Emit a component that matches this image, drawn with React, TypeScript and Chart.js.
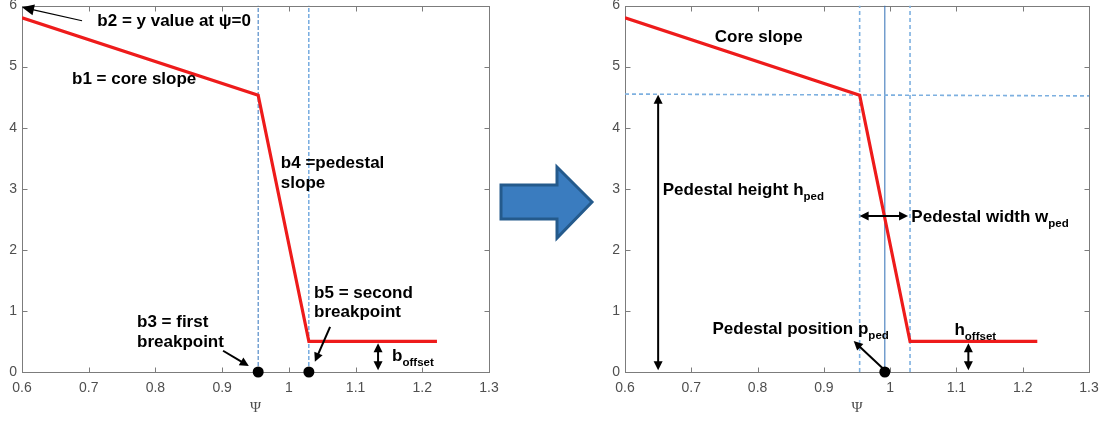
import React, { useEffect, useRef } from 'react';
import { Chart, registerables } from 'chart.js';

Chart.register(...registerables);

// Piecewise-linear pedestal profile: core slope, pedestal drop, flat offset
const profilePsi = [0.6, 0.954, 1.03, 1.222];
const profileValue = [5.8, 4.53, 0.5, 0.5];

// First (b3) and second (b5) breakpoints
const breakpointPsi = [0.954, 1.03];
// Pedestal position, midway between the breakpoints
const pedestalPsi = [0.992];
// Pedestal-top guide across the whole psi range
const pedestalTopPsi = [0.6, 1.3];
const pedestalTopValue = [4.55, 4.52];

const xTickValues = [0.6, 0.7, 0.8, 0.9, 1, 1.1, 1.2, 1.3];
const yTickValues = [0, 1, 2, 3, 4, 5, 6];

const SANS = "'Liberation Sans', Arial, sans-serif";
const MAIN_FONT = `bold 17px ${SANS}`;
const SUB_FONT = `bold 11.5px ${SANS}`;
const AXIS_COLOR = '#7c7c7c';
const LABEL_COLOR = '#4f4f4f';
const RED = '#ee1b1b';

type Part = { t: string; sub?: boolean };
type Note =
  | { kind: 'text'; x: number; y: number; parts: Part[] }
  | { kind: 'arrow'; x1: number; y1: number; x2: number; y2: number; both?: boolean; lw?: number; head?: number; half?: number };

const txt = (x: number, y: number, ...parts: (string | Part)[]): Note => ({
  kind: 'text',
  x,
  y,
  parts: parts.map((p) => (typeof p === 'string' ? { t: p } : p)),
});

const leftNotes: Note[] = [
  txt(0.7129, 5.766, 'b2 = y value at ψ=0'),
  { kind: 'arrow', x1: 0.69, y1: 5.75, x2: 0.6, y2: 5.97, lw: 1.2, head: 12, half: 5.5 },
  txt(0.675, 4.806, 'b1 = core slope'),
  txt(0.988, 3.445, 'b4 =pedestal'),
  txt(0.988, 3.118, 'slope'),
  txt(1.0378, 1.303, 'b5 = second'),
  txt(1.0378, 0.992, 'breakpoint'),
  txt(0.7724, 0.839, 'b3 = first'),
  txt(0.7724, 0.512, 'breakpoint'),
  { kind: 'arrow', x1: 0.9014, y1: 0.348, x2: breakpointPsi[0] - 0.014, y2: 0.098 },
  { kind: 'arrow', x1: 1.0618, y1: 0.74, x2: breakpointPsi[1] + 0.009, y2: 0.168 },
  { kind: 'arrow', x1: 1.1337, y1: profileValue[3] - 0.03, x2: 1.1337, y2: 0.03, both: true },
  txt(1.1547, 0.278, 'b', { t: 'offset', sub: true }),
];

const rightNotes: Note[] = [
  txt(0.7355, 5.498, 'Core slope'),
  { kind: 'arrow', x1: 0.65, y1: 4.54, x2: 0.65, y2: 0.03, both: true },
  txt(0.657, 2.992, 'Pedestal height h', { t: 'ped', sub: true }),
  { kind: 'arrow', x1: breakpointPsi[0], y1: 2.555, x2: breakpointPsi[1] - 0.003, y2: 2.555, both: true },
  txt(1.032, 2.555, 'Pedestal width w', { t: 'ped', sub: true }),
  txt(0.732, 0.719, 'Pedestal position p', { t: 'ped', sub: true }),
  { kind: 'arrow', x1: pedestalPsi[0], y1: 0.03, x2: 0.945, y2: 0.507 },
  txt(1.097, 0.703, 'h', { t: 'offset', sub: true }),
  { kind: 'arrow', x1: 1.118, y1: profileValue[3] - 0.03, x2: 1.118, y2: 0.03, both: true },
];

function drawHead(ctx: CanvasRenderingContext2D, x: number, y: number, ang: number, len: number, half: number) {
  ctx.beginPath();
  ctx.moveTo(x, y);
  ctx.lineTo(x - len * Math.cos(ang) + half * Math.sin(ang), y - len * Math.sin(ang) - half * Math.cos(ang));
  ctx.lineTo(x - len * Math.cos(ang) - half * Math.sin(ang), y - len * Math.sin(ang) + half * Math.cos(ang));
  ctx.closePath();
  ctx.fill();
}

// Draws the frame with inward tick marks on all four sides
const framePlugin = {
  id: 'frame',
  beforeDatasetsDraw(chart: any) {
    const { ctx, chartArea: a, scales } = chart;
    const L = Math.round(a.left) + 0.5;
    const R = Math.round(a.right) + 0.5;
    const T = Math.round(a.top) + 0.5;
    const B = Math.round(a.bottom) + 0.5;
    ctx.save();
    ctx.strokeStyle = AXIS_COLOR;
    ctx.lineWidth = 1;
    ctx.strokeRect(L, T, R - L, B - T);
    ctx.beginPath();
    const tl = 5;
    scales.x.ticks.forEach((t: any) => {
      const px = Math.round(scales.x.getPixelForValue(t.value)) + 0.5;
      ctx.moveTo(px, B);
      ctx.lineTo(px, B - tl);
      ctx.moveTo(px, T);
      ctx.lineTo(px, T + tl);
    });
    scales.y.ticks.forEach((t: any) => {
      const py = Math.round(scales.y.getPixelForValue(t.value)) + 0.5;
      ctx.moveTo(L, py);
      ctx.lineTo(L + tl, py);
      ctx.moveTo(R, py);
      ctx.lineTo(R - tl, py);
    });
    ctx.stroke();
    ctx.restore();
  },
};

// Text labels and black arrows placed in data coordinates
const notesPlugin = {
  id: 'notes',
  afterDatasetsDraw(chart: any, _args: any, opts: any) {
    const { ctx, scales } = chart;
    const notes: Note[] = opts.items || [];
    const X = (v: number) => scales.x.getPixelForValue(v);
    const Y = (v: number) => scales.y.getPixelForValue(v);
    ctx.save();
    ctx.fillStyle = '#000';
    ctx.strokeStyle = '#000';
    for (const n of notes) {
      if (n.kind === 'text') {
        let cx = X(n.x);
        const base = Y(n.y) + 6;
        ctx.textBaseline = 'alphabetic';
        ctx.textAlign = 'left';
        for (const p of n.parts) {
          ctx.font = p.sub ? SUB_FONT : MAIN_FONT;
          ctx.fillText(p.t, cx, p.sub ? base + 5 : base);
          cx += ctx.measureText(p.t).width;
        }
      } else {
        const x1 = X(n.x1), y1 = Y(n.y1), x2 = X(n.x2), y2 = Y(n.y2);
        const ang = Math.atan2(y2 - y1, x2 - x1);
        const len = n.head ?? 9;
        const half = n.half ?? 4.5;
        const sx = n.both ? x1 + Math.cos(ang) * len * 0.8 : x1;
        const sy = n.both ? y1 + Math.sin(ang) * len * 0.8 : y1;
        ctx.lineWidth = n.lw ?? 2;
        ctx.beginPath();
        ctx.moveTo(sx, sy);
        ctx.lineTo(x2 - Math.cos(ang) * len * 0.8, y2 - Math.sin(ang) * len * 0.8);
        ctx.stroke();
        drawHead(ctx, x2, y2, ang, len, half);
        if (n.both) drawHead(ctx, x1, y1, ang + Math.PI, len, half);
      }
    }
    ctx.restore();
  },
};

const vline = (x: number, color: string, width: number, dash: number[]) => ({
  type: 'line' as const,
  data: [{ x, y: 0 }, { x, y: 6 }],
  borderColor: color,
  borderWidth: width,
  borderDash: dash,
  pointRadius: 0,
  order: 5,
});

function buildConfig(variant: 'left' | 'right', padLeft: number, padRight: number) {
  const profile = {
    type: 'line' as const,
    data: profilePsi.map((x, i) => ({ x, y: profileValue[i] })),
    borderColor: RED,
    borderWidth: 3.2,
    pointRadius: 0,
    order: 1,
  };
  const dotPsi = variant === 'left' ? breakpointPsi : pedestalPsi;
  const dots = {
    type: 'line' as const,
    data: dotPsi.map((x) => ({ x, y: 0 })),
    showLine: false,
    pointRadius: 5.5,
    pointBackgroundColor: '#000',
    pointBorderColor: '#000',
    pointBorderWidth: 0,
    clip: false,
    order: 0,
  };
  const guides =
    variant === 'left'
      ? [vline(breakpointPsi[0], '#2f72bd', 1, [4, 2]), vline(breakpointPsi[1], '#2f80d0', 1, [4, 2])]
      : [
          vline(breakpointPsi[0], '#7db0e0', 1.6, [4, 3]),
          vline(breakpointPsi[1], '#7db0e0', 1.6, [4, 3]),
          {
            type: 'line' as const,
            data: pedestalTopPsi.map((x, i) => ({ x, y: pedestalTopValue[i] })),
            borderColor: '#7db0e0',
            borderWidth: 1.6,
            borderDash: [4, 3],
            pointRadius: 0,
            order: 5,
          },
          vline(pedestalPsi[0], '#2f6db5', 1, []),
        ];

  return {
    type: 'line' as const,
    data: { datasets: [profile, dots, ...guides] as any[] },
    plugins: [framePlugin, notesPlugin],
    options: {
      animation: false as const,
      responsive: false,
      devicePixelRatio: 1,
      layout: { padding: { left: padLeft, right: padRight, top: 5, bottom: 0 } },
      plugins: {
        legend: { display: false },
        tooltip: { enabled: false },
        notes: { items: variant === 'left' ? leftNotes : rightNotes },
      },
      scales: {
        x: {
          type: 'linear' as const,
          min: 0.6,
          max: 1.3,
          grid: { display: false, drawTicks: false },
          border: { display: false },
          afterBuildTicks: (s: any) => {
            s.ticks = xTickValues.map((value) => ({ value }));
          },
          afterFit: (s: any) => {
            s.height = 49;
            s.paddingLeft = 0;
            s.paddingRight = 0;
          },
          ticks: {
            padding: 8,
            color: LABEL_COLOR,
            font: { family: SANS, size: 14 },
            maxRotation: 0,
            autoSkip: false,
            callback: (v: any) => String(Number(Number(v).toFixed(1))),
          },
          title: {
            display: true,
            text: 'Ψ',
            color: LABEL_COLOR,
            font: { family: "'Liberation Serif', 'DejaVu Serif', serif", size: 15 },
            padding: { top: 0, bottom: 4 },
          },
        },
        y: {
          type: 'linear' as const,
          min: 0,
          max: 6,
          grid: { display: false, drawTicks: false },
          border: { display: false },
          afterBuildTicks: (s: any) => {
            s.ticks = yTickValues.map((value) => ({ value }));
          },
          afterFit: (s: any) => {
            s.width = 22;
            s.paddingTop = 0;
            s.paddingBottom = 0;
          },
          ticks: {
            padding: 5,
            color: LABEL_COLOR,
            font: { family: SANS, size: 14 },
            autoSkip: false,
          },
        },
      },
    },
  };
}

function ProfileChart(props: { variant: 'left' | 'right'; left: number; width: number; padLeft: number; padRight: number }) {
  const ref = useRef<HTMLCanvasElement>(null);
  useEffect(() => {
    const chart = new Chart(ref.current as HTMLCanvasElement, buildConfig(props.variant, props.padLeft, props.padRight) as any);
    return () => chart.destroy();
  }, []);
  return (
    <canvas
      ref={ref}
      width={props.width}
      height={421}
      style={{ position: 'absolute', left: props.left, top: 0, width: props.width, height: 421 }}
    />
  );
}

export default function App() {
  return (
    <div style={{ position: 'absolute', left: 0, top: 0, width: 1107, height: 421, background: '#fff', overflow: 'hidden' }}>
      <ProfileChart variant="left" left={0} width={540} padLeft={0} padRight={51} />
      <ProfileChart variant="right" left={600} width={507} padLeft={3} padRight={18} />
      <svg width={1107} height={421} style={{ position: 'absolute', left: 0, top: 0, pointerEvents: 'none' }}>
        <polygon
          points="501,185 557,185 557,167 592,202 557,238 557,219 501,219"
          fill="#3a7cbf"
          stroke="#245a8c"
          strokeWidth={3}
          strokeLinejoin="miter"
        />
      </svg>
    </div>
  );
}
